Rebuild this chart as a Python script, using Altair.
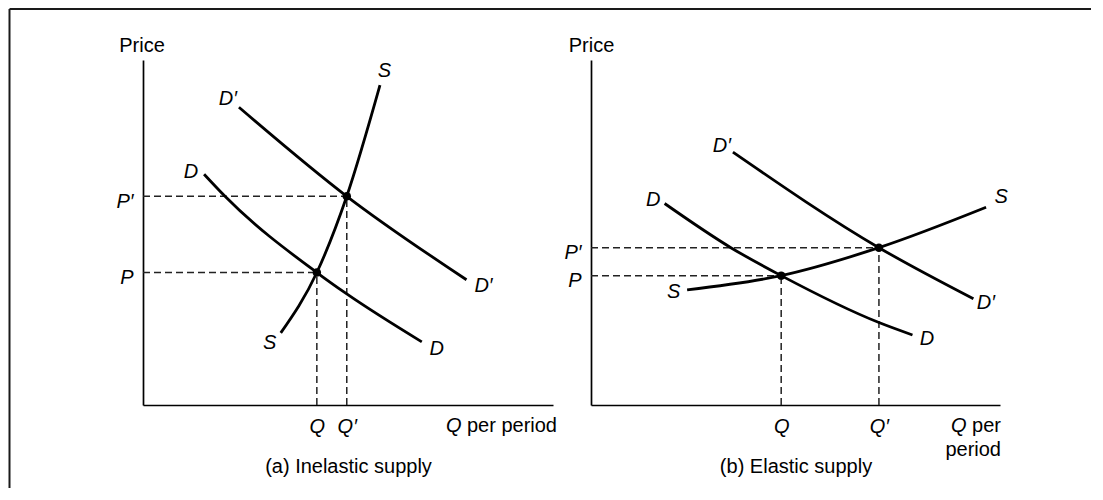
import altair as alt
import pandas as pd

FONT = "Liberation Sans"
FS = 20

# ---------------- data (arbitrary economic units) ----------------
# Panel (a) inelastic supply
a_S_q = [3.36, 4.24, 4.97, 5.78]
a_S_p = [2.09, 3.84, 6.05, 9.27]
a_D_q = [1.49, 2.00, 4.24, 4.97, 6.80]
a_D_p = [6.69, 6.05, 3.84, 3.22, 1.83]
a_D1_q = [2.34, 4.97, 7.89]
a_D1_p = [8.63, 6.05, 3.63]
a_eq_q = [4.24, 4.97]   # Q, Q'
a_eq_p = [3.84, 6.05]   # P, P'

# Panel (b) elastic supply
b_S_q = [2.35, 4.65, 7.04, 9.66]
b_S_p = [3.34, 3.75, 4.56, 5.73]
b_D_q = [1.80, 3.42, 4.65, 7.04, 7.86]
b_D_p = [5.84, 4.56, 3.75, 2.39, 2.03]
b_D1_q = [3.47, 7.04, 9.35]
b_D1_p = [7.33, 4.56, 3.08]
b_eq_q = [4.65, 7.04]
b_eq_p = [3.75, 4.56]

captions = ["(a) Inelastic supply", "(b) Elastic supply"]

# --------------------------------------------------------------------
PRIME = "\u2032"
DOMAIN = [0, 10]


def scales():
    return (alt.Scale(domain=DOMAIN, nice=False, zero=False),
            alt.Scale(domain=DOMAIN, nice=False, zero=False))


def panel(curves, eq_q, eq_p, labels, caption, qper, width, price_dx, border=False):
    xs, ys = scales()
    rows = []
    for name, qs, ps in curves:
        for i, (q, p) in enumerate(zip(qs, ps)):
            rows.append({"curve": name, "i": i, "q": q, "p": p})
    cdf = pd.DataFrame(rows)

    xaxis = alt.Axis(
        values=eq_q,
        labelExpr=f"datum.value == {eq_q[1]} ? 'Q{PRIME}' : 'Q'",
        title=caption, titleFont=FONT, titleFontSize=FS, titleFontWeight="normal",
        titleColor="black", titleBaseline="alphabetic", titleY=67, titleAlign="center",
        labelFont=FONT, labelFontSize=FS, labelFontStyle="italic", labelColor="black",
        labelBaseline="alphabetic", labelPadding=27, labelAlign="center",
        ticks=False, tickSize=0, grid=False, domainColor="black", domainWidth=1.7,
        labelOverlap=False,
    )
    yaxis = alt.Axis(
        values=eq_p,
        labelExpr=f"datum.value == {eq_p[1]} ? 'P{PRIME}' : 'P'",
        title="Price", titleFont=FONT, titleFontSize=FS, titleFontWeight="normal",
        titleColor="black", titleAngle=0, titleAlign="center", titleBaseline="alphabetic",
        titleX=price_dx, titleY=-9,
        labelFont=FONT, labelFontSize=FS, labelFontStyle="italic", labelColor="black",
        labelBaseline="middle", labelAlign="right", labelPadding=10, labelOffset=5,
        ticks=False, tickSize=0, grid=False, domainColor="black", domainWidth=1.7,
        labelOverlap=False,
    )

    lines = alt.Chart(cdf).mark_line(
        interpolate="monotone", strokeWidth=2.8, color="black"
    ).encode(
        x=alt.X("q:Q", scale=xs, axis=xaxis),
        y=alt.Y("p:Q", scale=ys, axis=yaxis),
        detail="curve:N",
        order="i:Q",
    )

    eqdf = pd.DataFrame({"q": eq_q, "p": eq_p, "q0": [0, 0], "p0": [0, 0]})
    hdash = alt.Chart(eqdf).mark_rule(
        strokeDash=[7, 4], strokeWidth=1.5, color="#222"
    ).encode(x=alt.X("q0:Q", scale=xs), x2="q:Q", y=alt.Y("p:Q", scale=ys))
    vdash = alt.Chart(eqdf).mark_rule(
        strokeDash=[7, 4], strokeWidth=1.5, color="#222"
    ).encode(x=alt.X("q:Q", scale=xs), y=alt.Y("p0:Q", scale=ys), y2="p:Q")
    dots = alt.Chart(eqdf).mark_circle(size=72, opacity=1, color="black").encode(
        x=alt.X("q:Q", scale=xs), y=alt.Y("p:Q", scale=ys)
    )

    layers = [hdash, vdash, lines, dots]

    cmap = {name: (qs, ps) for name, qs, ps in curves}
    for text, name, end, dx, dy in labels:
        qs, ps = cmap[name]
        k = 0 if end == "start" else -1
        ldf = pd.DataFrame({"q": [qs[k]], "p": [ps[k]], "t": [text]})
        layers.append(
            alt.Chart(ldf).mark_text(
                dx=dx, dy=dy, font=FONT, fontSize=FS, fontStyle="italic",
                align="center", baseline="middle", color="black"
            ).encode(x=alt.X("q:Q", scale=xs), y=alt.Y("p:Q", scale=ys), text="t:N")
        )

    # "Q per period" axis caption pieces, anchored at the end of the quantity axis
    for text, style, align, dx, dy in qper:
        tdf = pd.DataFrame({"q": [DOMAIN[1]], "p": [DOMAIN[0]], "t": [text]})
        layers.append(
            alt.Chart(tdf).mark_text(
                dx=dx, dy=dy, font=FONT, fontSize=FS, fontStyle=style,
                align=align, baseline="alphabetic", color="black"
            ).encode(x=alt.X("q:Q", scale=xs), y=alt.Y("p:Q", scale=ys), text="t:N")
        )

    if border:
        frame = pd.DataFrame({"k": [0]})
        layers.append(alt.Chart(frame).mark_rule(color="#1a1a1a", strokeWidth=2).encode(
            x=alt.value(-133.5), x2=alt.value(948), y=alt.value(-51)))
        layers.append(alt.Chart(frame).mark_rule(color="#1a1a1a", strokeWidth=2).encode(
            x=alt.value(-133.5), y=alt.value(-51), y2=alt.value(428)))

    return alt.layer(*layers).properties(width=width, height=345)


pa = panel(
    curves=[("S", a_S_q, a_S_p), ("D", a_D_q, a_D_p), ("D1", a_D1_q, a_D1_p)],
    eq_q=a_eq_q, eq_p=a_eq_p,
    labels=[
        ("S", "S", "end", 4.5, -14),
        ("S", "S", "start", -11, 10),
        ("D" + PRIME, "D1", "start", -11, -8),
        ("D" + PRIME, "D1", "end", 17, 6),
        ("D", "D", "start", -13, -2),
        ("D", "D", "end", 15, 7),
    ],
    caption=captions[0],
    qper=[("Q", "italic", "right", -91.5, 27), ("per period", "normal", "right", 4, 27)],
    width=410, price_dx=-1.5, border=True,
)

pb = panel(
    curves=[("S", b_S_q, b_S_p), ("D", b_D_q, b_D_p), ("D1", b_D1_q, b_D1_p)],
    eq_q=b_eq_q, eq_p=b_eq_p,
    labels=[
        ("S", "S", "end", 15, -10),
        ("S", "S", "start", -13.5, 2),
        ("D" + PRIME, "D1", "start", -11, -6),
        ("D" + PRIME, "D1", "end", 12.5, 4),
        ("D", "D", "start", -11.5, -4),
        ("D", "D", "end", 14.5, 4),
    ],
    caption=captions[1],
    qper=[("Q", "italic", "right", -33.5, 27), ("per", "normal", "right", 1, 27),
          ("period", "normal", "right", 1, 50.5)],
    width=409, price_dx=0,
)

chart = alt.hconcat(pa, pb, spacing=38).properties(
    bounds="flush", padding=0, background="white"
).configure_view(strokeWidth=0)

chart.save("out.html", embed_options={"renderer": "svg", "actions": False})
